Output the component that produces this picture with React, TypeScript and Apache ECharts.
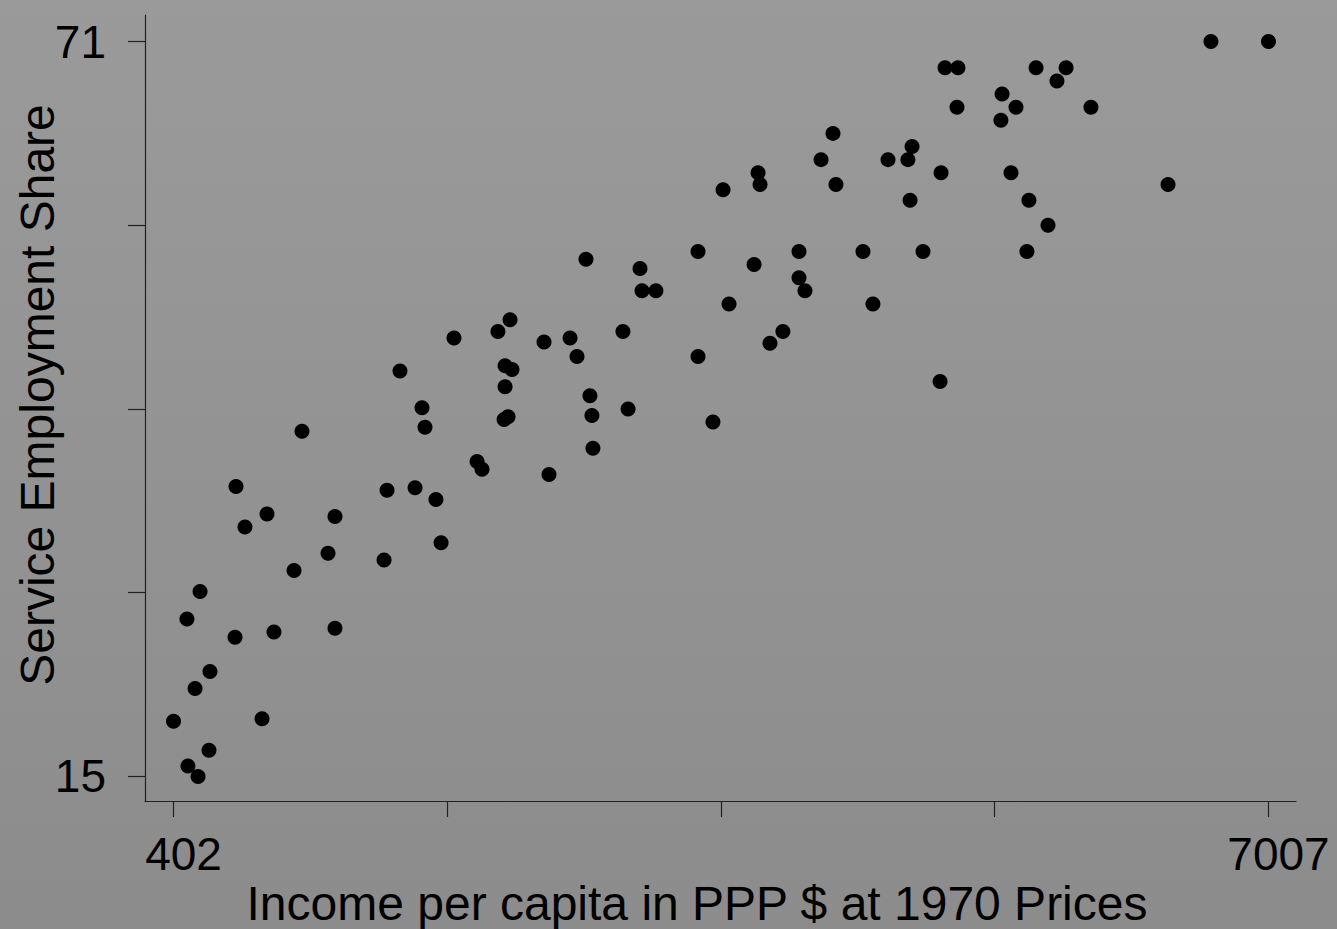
import React, { useEffect, useRef } from "react";
import * as echarts from "echarts";

// Income per capita (PPP $, 1970 prices) and service employment share (%)
const income = [
  6660, 7007, 5056, 5134, 5605, 5786, 5731, 5400, 5128, 5484, 5936, 5393,
  4380, 4857, 4308, 4712, 4832, 3928, 5032, 5454, 3940, 4398, 6401, 3717,
  4845, 5562, 5677, 3566, 4175, 4561, 4923, 5550, 2890, 3904, 3216, 4175,
  3228, 3312, 4211, 3753, 4621, 2432, 2359, 3113, 4078, 2094, 2794, 2637,
  4000, 2836, 3566, 2402, 2444, 1768, 5026, 2402, 2914, 1901, 3144, 2420,
  2396, 2926, 3656, 1919, 1177, 2932, 2233, 2263, 2667, 779, 1859, 1690,
  1985, 966, 1376, 833, 2016, 1334, 1672, 1129, 562, 483, 1376, 1008,
  773, 622, 532, 936, 402, 616, 489, 550,
];
const share = [
  71.0, 71.0, 69.0, 69.0, 69.0, 69.0, 68.0, 67.0, 66.0, 66.0, 66.0, 65.0,
  64.0, 63.0, 62.0, 62.0, 62.0, 61.0, 61.0, 61.0, 60.1, 60.1, 60.1, 59.7,
  58.9, 58.9, 57.0, 55.0, 55.0, 55.0, 55.0, 55.0, 54.4, 54.0, 53.7, 53.0,
  52.0, 52.0, 52.0, 51.0, 51.0, 49.8, 48.9, 48.9, 48.9, 48.4, 48.4, 48.1,
  48.0, 47.0, 47.0, 46.3, 46.0, 45.9, 45.1, 44.7, 44.0, 43.1, 43.0, 42.4,
  42.2, 42.5, 42.0, 41.6, 41.3, 40.0, 39.0, 38.4, 38.0, 37.1, 37.0, 36.8,
  36.1, 35.0, 34.8, 34.0, 32.8, 32.0, 31.5, 30.7, 29.1, 27.0, 26.3, 26.0,
  25.6, 23.0, 21.7, 19.4, 19.2, 17.0, 15.8, 15.0,
];

const xTicks = [402, 2053.25, 3704.5, 5355.75, 7007];
const xLabels = [402, 7007];
const yTicks = [15, 29, 43, 57, 71];
const yLabels = [15, 71];

const xTitle = "Income per capita in PPP $ at 1970 Prices";
const yTitle = "Service Employment Share";

const FONT = "Liberation Sans, Arial, Helvetica, sans-serif";

export default function App() {
  const ref = useRef<HTMLDivElement>(null);
  useEffect(() => {
    if (!ref.current) return;
    const chart = echarts.init(ref.current, undefined, { renderer: "svg" });
    const data = income.map((v, i) => [v, share[i]]);
    chart.setOption({
      animation: false,
      backgroundColor: {
        type: "linear",
        x: 0,
        y: 0,
        x2: 0,
        y2: 1,
        colorStops: [
          { offset: 0, color: "#9a9a9a" },
          { offset: 1, color: "#8c8c8c" },
        ],
      },
      grid: {
        left: 145,
        right: 41,
        top: 15,
        bottom: 128,
        containLabel: false,
        outerBoundsMode: "none",
      },
      xAxis: {
        type: "value",
        min: 230,
        max: 7173,
        splitLine: { show: false },
        axisLine: { show: true, lineStyle: { color: "#222", width: 1.2 } },
        axisTick: {
          show: true,
          length: 16,
          customValues: xTicks,
          lineStyle: { color: "#222", width: 1.2 },
        },
        axisLabel: {
          customValues: xLabels,
          formatter: (v: number) => String(v),
          margin: 30,
          fontSize: 46,
          fontFamily: FONT,
          color: "#000",
          padding: [0, 0, 0, 20],
        },
      },
      yAxis: {
        type: "value",
        min: 13.13,
        max: 73.02,
        splitLine: { show: false },
        axisLine: { show: true, lineStyle: { color: "#222", width: 1.2 } },
        axisTick: {
          show: true,
          length: 17,
          customValues: yTicks,
          lineStyle: { color: "#222", width: 1.2 },
        },
        axisLabel: {
          customValues: yLabels,
          formatter: (v: number) => String(v),
          margin: 39,
          fontSize: 46,
          fontFamily: FONT,
          color: "#000",
          padding: [0, 0, 10, 0],
        },
      },
      graphic: [
        {
          type: "text",
          x: 697,
          y: 903,
          style: {
            text: xTitle,
            fontSize: 48,
            fontFamily: FONT,
            fill: "#000",
            align: "center",
            verticalAlign: "middle",
          },
        },
        {
          type: "text",
          x: 37,
          y: 395,
          rotation: Math.PI / 2,
          style: {
            text: yTitle,
            fontSize: 48,
            fontFamily: FONT,
            fill: "#000",
            align: "center",
            verticalAlign: "middle",
          },
        },
      ],
      series: [
        {
          type: "scatter",
          data,
          symbol: "circle",
          symbolSize: 15,
          itemStyle: { color: "#000", opacity: 1 },
        },
      ],
    });
    return () => chart.dispose();
  }, []);
  return (
    <div
      ref={ref}
      style={{ position: "absolute", left: 0, top: 0, width: 1337, height: 929 }}
    />
  );
}
